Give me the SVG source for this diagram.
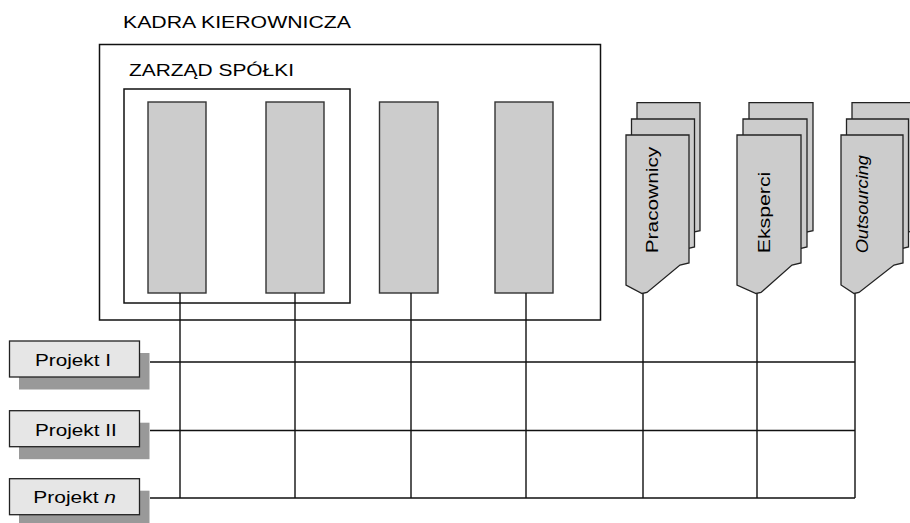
<svg xmlns="http://www.w3.org/2000/svg" width="910" height="523" viewBox="0 0 910 523">
<style>
text{font-family:"Liberation Sans",Arial,sans-serif;font-size:17px;fill:#000}
.frame{fill:none;stroke:#111;stroke-width:1.5}
.bar{fill:#cccccc;stroke:#333;stroke-width:1.4}
.card{fill:#cccccc;stroke:#222;stroke-width:1.3}
.pbox{fill:#e6e6e6;stroke:#222;stroke-width:1.3}
.shadow{fill:#999999}
.ln{stroke:#111;stroke-width:1.4;fill:none}
</style>
<rect width="910" height="523" fill="#fff"/>
<g id="kadra">
<rect class="frame" x="99.5" y="44.5" width="501" height="275.5"/>
<text x="123" y="28" textLength="228" lengthAdjust="spacingAndGlyphs">KADRA KIEROWNICZA</text>
</g>
<g id="zarzad">
<rect class="frame" x="124" y="89" width="226" height="214"/>
<text x="129" y="75.5" textLength="165" lengthAdjust="spacingAndGlyphs">ZARZĄD SPÓŁKI</text>
</g>
<g id="bar1"><rect class="bar" x="148" y="102" width="58" height="191"/></g>
<g id="bar2"><rect class="bar" x="266" y="102" width="58" height="191"/></g>
<g id="bar3"><rect class="bar" x="379.5" y="102" width="58.5" height="191"/></g>
<g id="bar4"><rect class="bar" x="495" y="102" width="58" height="191"/></g>

<g id="connectors">
<path class="ln" d="M150,362 H855 M150,430.5 H855 M150,498 H855"/>
<path class="ln" d="M180,293 V498 M295,293 V498 M411,293 V498 M526,293 V498 M643,293 V498 M757,293 V498 M855,293 V498"/>
</g>

<g id="pracownicy">
<path class="card" transform="translate(11,-32.3)" d="M626,135 H689 V263 L680,265 L647,292.5 L642,293.5 L626,285 Z"/>
<path class="card" transform="translate(5.5,-16)" d="M626,135 H689 V263 L680,265 L647,292.5 L642,293.5 L626,285 Z"/>
<path class="card" d="M626,135 H689 V263 L680,265 L647,292.5 L642,293.5 L626,285 Z"/>
<text x="658.4" y="253.3" transform="rotate(-90 658.4 253.3)" textLength="106.6" lengthAdjust="spacingAndGlyphs">Pracownicy</text>
</g>
<g id="eksperci">
<path class="card" transform="translate(12,-32.3)" d="M737,135 H801 V263 L792,265 L761,292.5 L756,293.5 L737,285 Z"/>
<path class="card" transform="translate(6,-16)" d="M737,135 H801 V263 L792,265 L761,292.5 L756,293.5 L737,285 Z"/>
<path class="card" d="M737,135 H801 V263 L792,265 L761,292.5 L756,293.5 L737,285 Z"/>
<text x="769.7" y="253.3" transform="rotate(-90 769.7 253.3)" textLength="81.6" lengthAdjust="spacingAndGlyphs">Eksperci</text>
</g>
<g id="outsourcing">
<path class="card" transform="translate(11,-32.3)" d="M841,135 H903 V263 L894,265 L859,292.5 L854,293.5 L841,285 Z"/>
<path class="card" transform="translate(5.5,-16)" d="M841,135 H903 V263 L894,265 L859,292.5 L854,293.5 L841,285 Z"/>
<path class="card" d="M841,135 H903 V263 L894,265 L859,292.5 L854,293.5 L841,285 Z"/>
<text x="868.4" y="253.3" transform="rotate(-90 868.4 253.3)" font-style="italic" textLength="98.3" lengthAdjust="spacingAndGlyphs">Outsourcing</text>
</g>

<g id="projekt1">
<rect class="shadow" x="19" y="353" width="130.5" height="36.5"/>
<rect class="pbox" x="9.5" y="341" width="130" height="36"/>
<text x="35" y="365.7" textLength="76" lengthAdjust="spacingAndGlyphs">Projekt I</text>
</g>
<g id="projekt2">
<rect class="shadow" x="19" y="422.7" width="130.5" height="36.5"/>
<rect class="pbox" x="9.5" y="410.7" width="130" height="36"/>
<text x="35" y="436" textLength="81.7" lengthAdjust="spacingAndGlyphs">Projekt II</text>
</g>
<g id="projektn">
<rect class="shadow" x="19" y="490.7" width="130.5" height="36.5"/>
<rect class="pbox" x="9.5" y="478.7" width="130" height="36"/>
<text x="33.3" y="503.3" textLength="82.7" lengthAdjust="spacingAndGlyphs">Projekt <tspan font-style="italic">n</tspan></text>
</g>
</svg>
